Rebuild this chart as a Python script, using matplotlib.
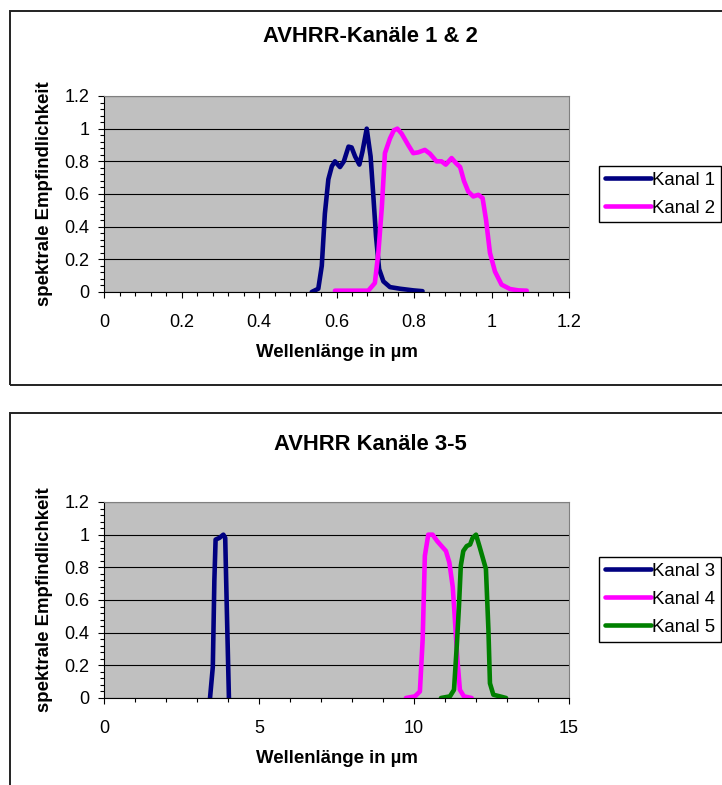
import matplotlib
matplotlib.use('Agg')
from matplotlib import pyplot as plt
from matplotlib.patches import Rectangle
from matplotlib.ticker import MultipleLocator, FormatStrFormatter

# Kanal 1 & 2 (visible / near infrared)
k1_wl = [0.536, 0.553, 0.562, 0.570, 0.579, 0.588, 0.596, 0.609, 0.619, 0.631, 0.639, 0.648,
         0.659, 0.667, 0.678, 0.688, 0.695, 0.702, 0.710, 0.721, 0.738, 0.764, 0.798, 0.822]
k1_val = [0.0, 0.02, 0.16, 0.48, 0.69, 0.77, 0.80, 0.765, 0.80, 0.89, 0.885, 0.83,
          0.78, 0.86, 1.0, 0.83, 0.59, 0.34, 0.14, 0.065, 0.03, 0.02, 0.01, 0.005]

k2_wl = [0.596, 0.682, 0.699, 0.708, 0.717, 0.725, 0.738, 0.748, 0.757, 0.768, 0.785, 0.798,
         0.811, 0.828, 0.841, 0.858, 0.871, 0.882, 0.897, 0.908, 0.919, 0.929, 0.940, 0.953,
         0.966, 0.977, 0.986, 0.996, 1.009, 1.026, 1.048, 1.069, 1.091]
k2_val = [0.008, 0.008, 0.055, 0.24, 0.52, 0.85, 0.94, 0.99, 1.0, 0.97, 0.90, 0.85,
          0.855, 0.87, 0.847, 0.80, 0.80, 0.78, 0.82, 0.79, 0.765, 0.68, 0.615, 0.585,
          0.595, 0.575, 0.44, 0.24, 0.125, 0.045, 0.018, 0.01, 0.008]

# Kanal 3-5 (thermal)
k3_wl = [3.42, 3.51, 3.56, 3.60, 3.72, 3.85, 3.91, 3.96, 4.03]
k3_val = [0.0, 0.19, 0.72, 0.97, 0.98, 1.0, 0.98, 0.56, 0.0]

k4_wl = [9.74, 10.03, 10.19, 10.28, 10.35, 10.46, 10.60, 10.75, 10.89, 11.03, 11.14,
         11.25, 11.32, 11.40, 11.48, 11.61, 11.86]
k4_val = [0.0, 0.01, 0.04, 0.36, 0.87, 1.0, 1.0, 0.96, 0.93, 0.90, 0.83,
          0.68, 0.48, 0.235, 0.05, 0.01, 0.0]

k5_wl = [10.87, 11.16, 11.29, 11.38, 11.45, 11.51, 11.59, 11.70, 11.81, 11.89, 12.00,
         12.11, 12.32, 12.40, 12.45, 12.56, 12.77, 12.97]
k5_val = [0.0, 0.01, 0.05, 0.32, 0.56, 0.81, 0.90, 0.93, 0.94, 0.98, 1.0,
          0.93, 0.79, 0.42, 0.09, 0.02, 0.01, 0.0]

plt.rcParams['font.family'] = ['Liberation Sans', 'DejaVu Sans']

W, H = 722, 785
fig = plt.figure(figsize=(W / 100, H / 100), dpi=100)


def fx(px):
    return px / W


def fy(py):
    return 1 - py / H


def make_chart(frame_top, ax_top, title, title_y, xmax, xmajor, xminor, series, legend_top):
    # outer chart frame
    fig.patches.append(Rectangle((fx(10), fy(frame_top + 374)), fx(800), 374 / H,
                                 transform=fig.transFigure,
                                 fill=False, edgecolor='#222222', linewidth=1.4))
    ax = fig.add_axes([fx(104), fy(ax_top + 196), fx(465), 196 / H])
    ax.set_facecolor('#C0C0C0')
    for x, y, c, lab in series:
        ax.plot(x, y, color=c, lw=3.3, label=lab, solid_joinstyle='round', solid_capstyle='round')
    ax.set_xlim(0, xmax)
    ax.set_ylim(0, 1.2)
    ax.xaxis.set_major_locator(MultipleLocator(xmajor))
    ax.xaxis.set_minor_locator(MultipleLocator(xminor))
    ax.yaxis.set_major_locator(MultipleLocator(0.2))
    ax.yaxis.set_minor_locator(MultipleLocator(0.04))
    ax.xaxis.set_major_formatter(FormatStrFormatter('%g'))
    ax.yaxis.set_major_formatter(FormatStrFormatter('%g'))
    ax.grid(axis='y', which='major', color='black', lw=0.8)
    ax.tick_params(which='major', length=4.5, width=0.8, labelsize=13)
    ax.tick_params(which='minor', length=3, width=0.8)
    ax.tick_params(axis='x', pad=11)
    ax.tick_params(axis='y', pad=6)
    for s in ['top', 'right']:
        ax.spines[s].set_color('#808080')
    for s in ['left', 'bottom']:
        ax.spines[s].set_color('black')
    ax.set_xlabel('Wellenlänge in µm', fontsize=13.4, fontweight='bold', labelpad=10)
    ax.set_ylabel('spektrale Empfindlichkeit', fontsize=13.4, fontweight='bold', labelpad=8)
    fig.text(fx(370), fy(title_y), title, ha='center', va='center', fontsize=15.8, fontweight='bold')
    fig.legend(*ax.get_legend_handles_labels(), loc='upper left',
               bbox_to_anchor=(fx(599), fy(legend_top)), fontsize=13.4,
               frameon=True, fancybox=False, edgecolor='black', framealpha=1,
               handlelength=2.5, handletextpad=0.05, labelspacing=0.6,
               borderpad=0.3, borderaxespad=0)
    return ax


make_chart(11, 96, 'AVHRR-Kanäle 1 & 2', 37, 1.2, 0.2, 0.04,
           [(k1_wl, k1_val, '#000080', 'Kanal 1'), (k2_wl, k2_val, '#FF00FF', 'Kanal 2')], 166)
make_chart(413, 502, 'AVHRR Kanäle 3-5', 444, 15, 5, 1,
           [(k3_wl, k3_val, '#000080', 'Kanal 3'), (k4_wl, k4_val, '#FF00FF', 'Kanal 4'),
            (k5_wl, k5_val, '#008000', 'Kanal 5')], 557)

fig.savefig('out.png', dpi=100)
